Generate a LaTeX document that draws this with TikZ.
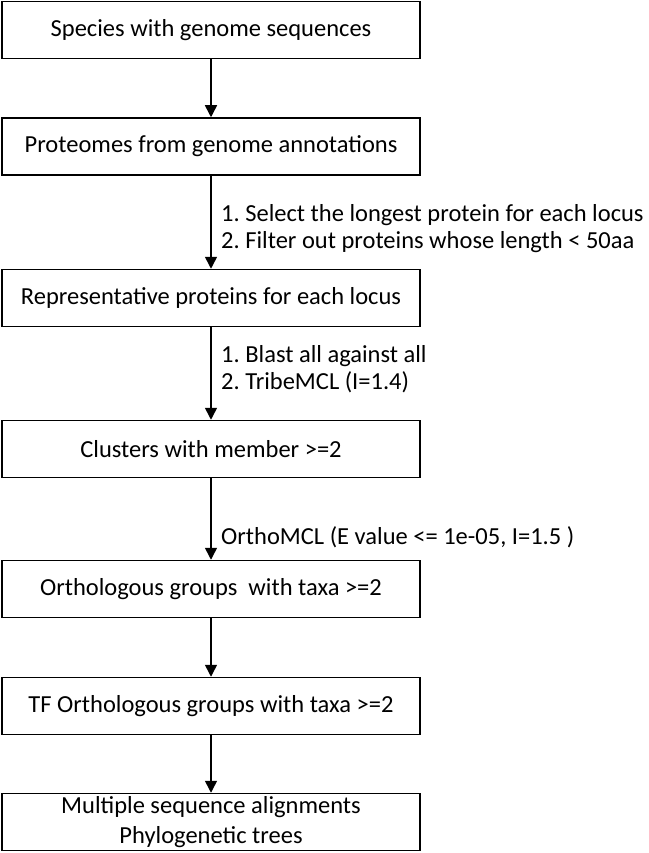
\documentclass[tikz,border=0pt]{standalone}
\usepackage{fontspec}
\setmainfont{Carlito}
\usepackage{tikz}
\usetikzlibrary{arrows.meta, positioning}
\frenchspacing

\begin{document}
\begin{tikzpicture}[
    x=1pt, y=-1pt,
    box/.style  = {rectangle, draw, line width=1.5pt,
                   minimum width=418pt, minimum height=57pt,
                   align=center, font=\fontsize{24.5}{30}\selectfont, inner sep=1pt},
    note/.style = {anchor=west, align=left, inner sep=0pt,
                   font=\fontsize{24.5}{27}\selectfont},
    arr/.style  = {-{Triangle[width=12pt,length=12pt]}, line width=1.5pt}
]
\useasboundingbox (0,0) rectangle (648,853);

%% ---- main pipeline ----
\node[box] (species)  at (211, 30)    {Species with genome sequences};
\node[box] (proteome) at (211, 146.5) {Proteomes from genome annotations};
\node[box] (repprot)  at (211, 298)   {Representative proteins for each locus};
\node[box] (cluster)  at (211, 449)   {Clusters with member >=2};
\node[box] (ortho)    at (211, 589)   {Orthologous groups\ \ with taxa >=2};
\node[box] (tfortho)  at (211, 706)   {TF Orthologous groups with taxa >=2};
\node[box] (msa)      at (211, 822)   {Multiple sequence alignments\\Phylogenetic trees};

%% ---- arrows ----
\draw[arr] (species)  -- (proteome);
\draw[arr] (proteome) -- (repprot);
\draw[arr] (repprot)  -- (cluster);
\draw[arr] (cluster)  -- (ortho);
\draw[arr] (ortho)    -- (tfortho);
\draw[arr] (tfortho)  -- (msa);

%% ---- step notes ----
\node[note] (selnote)   at (221, 228.5) {1. Select the longest protein for each locus\\2. Filter out proteins whose length < 50aa};
\node[note] (blastnote) at (221, 369.5) {1. Blast all against all\\2. TribeMCL (I=1.4)};
\node[note] (mclnote)   at (221, 537)   {OrthoMCL (E value <= 1e-05, I=1.5 )};

\end{tikzpicture}
\end{document}
